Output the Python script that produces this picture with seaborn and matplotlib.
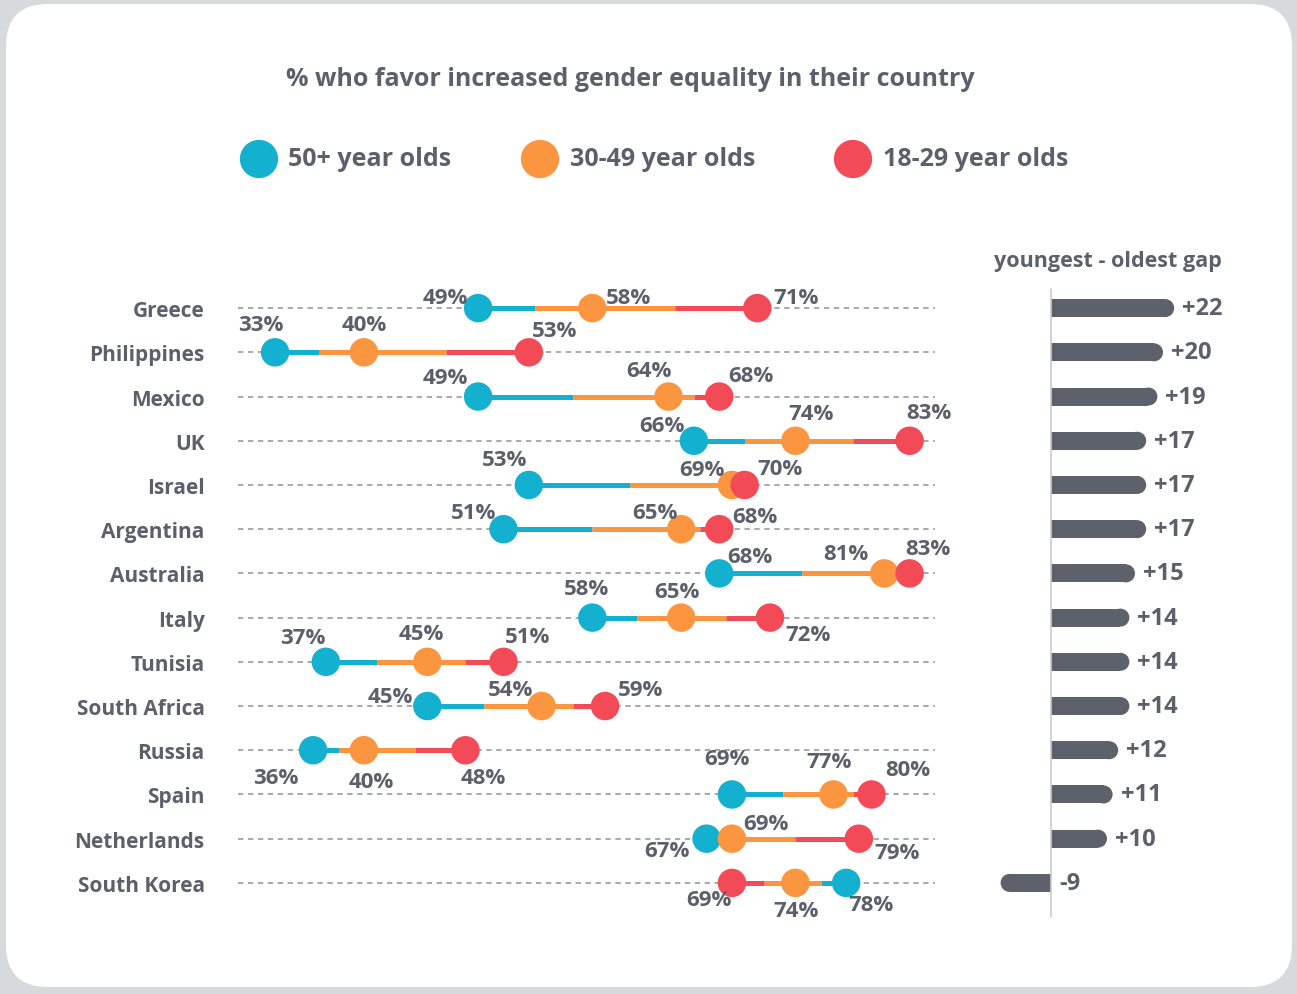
import numpy as np
import pandas as pd
import matplotlib
matplotlib.use("Agg")
import matplotlib.pyplot as plt
import seaborn as sns
from matplotlib.patches import FancyBboxPatch

# data
countries = ["Greece", "Philippines", "Mexico", "UK", "Israel", "Argentina", "Australia",
             "Italy", "Tunisia", "South Africa", "Russia", "Spain", "Netherlands", "South Korea"]
pct_50plus = [49, 33, 49, 66, 53, 51, 68, 58, 37, 45, 36, 69, 67, 78]
pct_30_49 = [58, 40, 64, 74, 69, 65, 81, 65, 45, 54, 40, 77, 69, 74]
pct_18_29 = [71, 53, 68, 83, 70, 68, 83, 72, 51, 59, 48, 80, 79, 69]
gap = [22, 20, 19, 17, 17, 17, 15, 14, 14, 14, 12, 11, 10, -9]
groups = ["50+ year olds", "30-49 year olds", "18-29 year olds"]

TEAL, ORANGE, RED = "#14b0cf", "#fb953f", "#f34a57"
GREY_TXT = "#5c606b"
BAR = "#5d616b"
colors = [TEAL, ORANGE, RED]

# label offsets in pixels (dx, dy) for 50+, 30-49, 18-29
offsets = [
    [(-33, 11), (36, 11), (39, 11)],
    [(-14, 28), (0, 28), (26, 22)],
    [(-33, 19), (-20, 26), (32, 21)],
    [(-32, 15), (16, 27), (19, 28)],
    [(-24, 25), (-30, 15), (35, 16)],
    [(-30, 17), (-26, 17), (36, 13)],
    [(31, 17), (-38, 20), (18, 25)],
    [(-6, 29), (-4, 26), (38, -17)],
    [(-23, 24), (-6, 28), (24, 25)],
    [(-37, 10), (-31, 17), (36, 17)],
    [(-37, -27), (7, -31), (18, -27)],
    [(-5, 36), (-4, 33), (36, 25)],
    [(-40, -12), (34, 15), (38, -14)],
    [(25, -22), (1, -28), (-23, -17)],
]

sns.set_theme(style="white")
plt.rcParams["font.family"] = ["Open Sans", "DejaVu Sans"]

W, H = 1297, 995
fig = plt.figure(figsize=(W / 100, H / 100), dpi=100)
fig.patch.set_facecolor("#d7dadd")

# background card, title and legend in pixel coordinates
bg = fig.add_axes([0, 0, 1, 1], zorder=0)
bg.set_xlim(0, W)
bg.set_ylim(H, 0)
bg.axis("off")
bg.add_patch(FancyBboxPatch((6, 5), 1286, 983, boxstyle="round,pad=0,rounding_size=42",
                            facecolor="white", edgecolor="none"))
bg.text(630, 80, "% who favor increased gender equality in their country", ha="center",
        va="center", fontsize=18, fontweight="bold", color=GREY_TXT)
for cx, tx, col, lab in zip([259, 540, 853], [288, 570, 883], colors, groups):
    bg.scatter([cx], [160], s=760, color=col, edgecolor="none")
    bg.text(tx, 160, lab, ha="left", va="center", fontsize=18, fontweight="bold", color=GREY_TXT)
bg.text(1108, 261, "youngest - oldest gap", ha="center", va="center", fontsize=15.5,
        fontweight="bold", color=GREY_TXT)

# dumbbell panel
ax = fig.add_axes([238 / W, 1 - 906 / H, 697 / W, 619 / H], zorder=1)
ax.patch.set_alpha(0)
rows = np.arange(len(countries))

long = pd.DataFrame({
    "row": np.tile(rows, 3),
    "value": pct_50plus + pct_30_49 + pct_18_29,
    "group": np.repeat(groups, len(countries)),
})

for r in rows:
    ax.axhline(r, color="#8f9297", lw=1.1, ls=(0, (3.5, 3)), zorder=1)
    a, b, c = pct_50plus[r], pct_30_49[r], pct_18_29[r]
    m1, m2 = (a + b) / 2, (b + c) / 2
    for x0, x1, col in [(a, m1, TEAL), (m1, m2, ORANGE), (m2, c, RED)]:
        ax.plot([x0, x1], [r, r], color=col, lw=3.6, solid_capstyle="butt", zorder=2)

sns.scatterplot(data=long, x="value", y="row", hue="group", palette=colors, s=420,
                edgecolor="none", linewidth=0, legend=False, zorder=3, ax=ax)

for r in rows:
    for k, vals in enumerate([pct_50plus, pct_30_49, pct_18_29]):
        dx, dy = offsets[r][k]
        ax.annotate(f"{vals[r]}%", (vals[r], r), xytext=(dx, dy), textcoords="offset pixels",
                    ha="center", va="center", fontsize=16, fontweight="bold", color=GREY_TXT,
                    zorder=4, annotation_clip=False)

ax.set_xlim(30.08, 85.0)
ax.set_ylim(13.5, -0.5)
ax.set_yticks(rows)
ax.set_yticklabels(countries, fontsize=15, fontweight="bold", color=GREY_TXT)
ax.tick_params(axis="y", length=0, pad=24)
ax.set_xticks([])
ax.set_xlabel("")
ax.set_ylabel("")
sns.despine(ax=ax, left=True, bottom=True)

# gap panel: bar plus round cap at the outer end
gx = fig.add_axes([995 / W, 1 - 906 / H, 250 / W, 619 / H], zorder=1)
gx.patch.set_alpha(0)
px_per_unit = 5.6
bar_px = 18
cap = (bar_px / 2) / px_per_unit
gap_body = [g - np.sign(g) * cap for g in gap]
sns.barplot(x=gap_body, y=rows, orient="h", color=BAR, width=bar_px / 44.2, saturation=1,
            edgecolor="none", ax=gx)
gx.scatter(gap_body, rows, s=(bar_px * 0.72) ** 2, color=BAR, edgecolor="none", zorder=5)
gx.plot([0, 0], [-0.43, 13.77], color="#c9cbce", lw=1.2, clip_on=False, zorder=1)
for r, g in enumerate(gap):
    x_end = max(g, 0)
    gx.annotate(f"{g:+d}", (x_end, r), xytext=(8, 0), textcoords="offset pixels",
                ha="left", va="center", fontsize=17, fontweight="bold", color=GREY_TXT,
                annotation_clip=False)
gx.set_xlim((995 - 1051) / px_per_unit, (1245 - 1051) / px_per_unit)
gx.set_ylim(13.5, -0.5)
gx.axis("off")

fig.savefig("out.png", dpi=100, facecolor=fig.get_facecolor())
